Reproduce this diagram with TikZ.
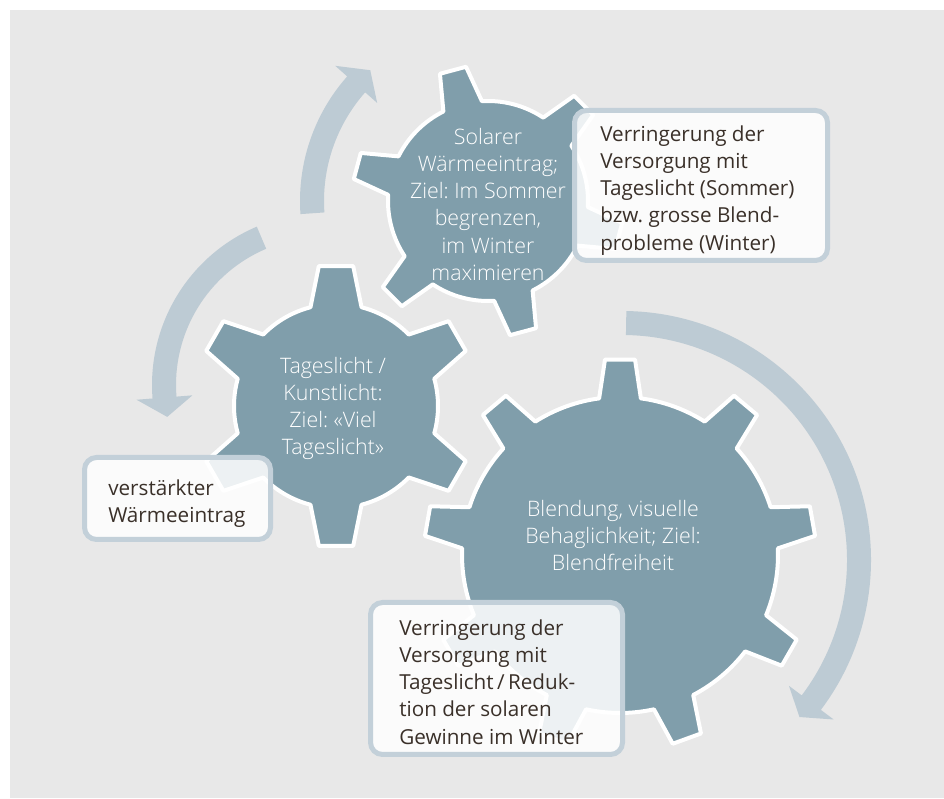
\documentclass[tikz,border=0pt]{standalone}
\usepackage{fontspec}
\setmainfont{Open Sans}
\IfFontExistsTF{Open Sans Light}{\newfontfamily\gearfamily{Open Sans Light}}{\newcommand{\gearfamily}{\rmfamily}}
\frenchspacing
\definecolor{bgc}{RGB}{232,232,232}
\definecolor{gearc}{RGB}{128,158,171}
\definecolor{flowc}{RGB}{189,203,212}
\definecolor{boxline}{RGB}{195,208,217}
\definecolor{textc}{RGB}{58,48,41}
\newcommand{\txtfont}{\fontsize{15.5pt}{20.4pt}\selectfont\frenchspacing}
\newcommand{\geartxtfont}{\gearfamily\fontsize{16pt}{20.4pt}\selectfont\frenchspacing}
\newcommand{\topstrut}{\rule{0pt}{0.8em}}
\tikzset{
  gearshape/.style={fill=gearc, draw=white, line width=3pt, line join=round},
  flowshape/.style={fill=flowc},
  infobox/.style={fill=white, fill opacity=0.86, draw=boxline, draw opacity=1, line width=3.75pt, rounded corners=9pt},
  boxtext/.style={anchor=north west, inner sep=0pt, align=left, font=\txtfont, text=textc},
  geartext/.style={anchor=north, inner sep=0pt, align=center, font=\geartxtfont, text=white}
}
% gear: cx, cy, teeth, first angle, root radius, outer radius, base half-angle, tip half-angle
\newcommand{\drawgear}[8]{%
  \begin{scope}[shift={(#1,#2)}]
    \pgfmathsetmacro{\gstep}{360/#3}
    \draw[gearshape] ({#4-#7}:#5)
      \foreach \k in {1,...,#3} {
        -- ({#4+(\k-1)*\gstep-#8}:#6) -- ({#4+(\k-1)*\gstep+#8}:#6)
        -- ({#4+(\k-1)*\gstep+#7}:#5)
        arc[start angle={#4+(\k-1)*\gstep+#7}, end angle={#4+\k*\gstep-#7}, radius=#5]
      } -- cycle;
  \end{scope}}
% arc arrow: cx, cy, R, start angle, head base angle, tip angle
\newcommand{\flowarrow}[6]{%
  \begin{scope}[shift={(#1,#2)}]
    \pgfmathsetmacro{\rout}{#3+12}
    \pgfmathsetmacro{\rin}{#3-12}
    \pgfmathsetmacro{\rhi}{#3+28}
    \pgfmathsetmacro{\rlo}{#3-28}
    \fill[flowshape] (#4:\rout) arc[start angle=#4, end angle=#5, radius=\rout]
      -- (#5:\rhi) -- (#6:#3) -- (#5:\rlo) -- (#5:\rin)
      arc[start angle=#5, end angle=#4, radius=\rin] -- cycle;
  \end{scope}}
\begin{document}
\begin{tikzpicture}[x=0.75pt,y=0.75pt]
\useasboundingbox (0,0) rectangle (944,798);
\fill[white] (0,0) rectangle (944,798);
\fill[bgc] (10,0) rectangle (944,788);

% circular arrows
\flowarrow{488}{597}{176}{184}{138.5}{132}
\flowarrow{324}{413}{160}{113}{184.5}{191.5}
\flowarrow{622}{238}{237}{89}{-37}{-41.5}

% gears
\drawgear{488}{597}{6}{45}{100}{136}{11.5}{5.7}
\drawgear{336}{392}{6}{30}{102}{141}{14.5}{7}
\drawgear{620}{243}{9}{90}{158}{196}{7.6}{4.4}

\node[geartext] (solar) at (488,671) {\topstrut Solarer\\Wärmeeintrag;\\Ziel: Im Sommer\\begrenzen,\\im Winter\\maximieren};
\node[geartext] (tages) at (333,442) {\topstrut Tageslicht /\\Kunstlicht:\\Ziel: «Viel\\Tageslicht»};
\node[geartext] (blend) at (613,299) {\topstrut Blendung, visuelle\\Behaglichkeit; Ziel:\\Blendfreiheit};

% info boxes
\draw[infobox] (574.5,537.5) rectangle (827.5,687.5);
\draw[infobox] (84.5,258.5) rectangle (270.5,340.5);
\draw[infobox] (370.5,43.5) rectangle (622.5,195.5);

\node[boxtext] (boxa) at (600,673.5) {\topstrut Verringerung der\\Versorgung mit\\Tageslicht (Sommer)\\bzw. grosse Blend-\\probleme (Winter)};
\node[boxtext] (boxb) at (108,319.5) {\topstrut verstärkter\\Wärmeeintrag};
\node[boxtext] (boxc) at (399,179.5) {\topstrut Verringerung der\\Versorgung mit\\Tageslicht\,/\,Reduk-\\tion der solaren\\Gewinne im Winter};
\end{tikzpicture}
\end{document}
